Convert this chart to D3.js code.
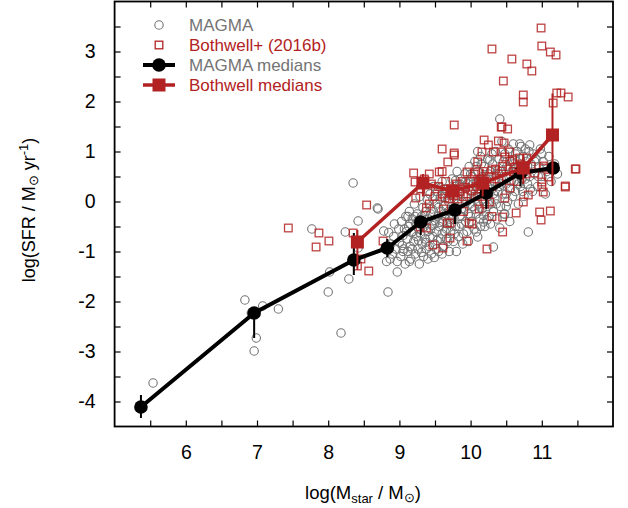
<!DOCTYPE html>
<html>
<head>
<meta charset="utf-8">
<script src="https://cdn.jsdelivr.net/npm/d3@7"></script>
<style>
  body { margin: 0; background: #fff; }
  svg text { font-family: "Liberation Sans", Arial, Helvetica, sans-serif; }
</style>
</head>
<body>
<div id="chart"></div>
<script>
// MAGMA individual galaxies [logM, logSFR]
var magmaPoints = [
  [5.54,-3.63],[6.83,-1.97],[7.08,-2.09],[7.30,-2.15],[6.99,-2.73],[6.96,-2.99],[6.92,-2.23],
  [8.35,0.37],[7.77,-0.55],[8.24,-0.61],[8.42,-0.39],[8.02,-1.41],[8.29,-1.55],[8.0,-1.81],
  [8.18,-2.63],[8.42,-0.93],[8.70,-0.15],[8.78,-0.59],[8.84,-1.81],[8.97,-1.41],[10.41,1.65],
  [10.69,1.15],[10.83,1.13],[10.77,1.05],[10.1,1.0],[10.27,0.83],[10.48,-0.25],[10.41,-0.53],
  [10.81,-0.61],[10.32,-0.91],[10.1,-0.71],[10.08,-0.61],[10.23,-0.37],[10.18,-0.41],[8.69,-0.13],
  [8.85,-0.62],[8.88,-0.85],[8.9,-1.05],[8.92,-0.7],[8.95,-0.95],[8.97,-1.2],[8.99,-0.55],[9.0,-0.82],
  [9.02,-1.1],[9.03,-0.4],[9.05,-0.68],[9.06,-0.95],[9.08,-1.25],[9.09,-0.3],[8.87,-1.15],[8.93,-0.45],
  [9.04,-0.88],[8.8,-0.95],[8.82,-1.2],[9.07,-0.55],
  [9.11,-0.75],[9.12,-1.0],[9.13,-0.5],[9.14,-0.2],[9.15,-0.9],[9.16,-1.15],[9.17,-0.62],[9.18,-0.35],
  [9.2,-0.8],[9.21,-0.05],[9.22,-1.05],[9.23,-0.45],[9.24,-0.7],[9.25,-0.25],[9.26,-0.95],[9.27,-0.55],
  [9.28,-1.25],[9.29,0.1],[9.3,-0.65],[9.31,-0.3],[9.32,-0.85],[9.33,-0.12],[9.34,-1.1],[9.35,-0.5],
  [9.36,-0.75],[9.37,-0.2],[9.38,-0.95],[9.39,0.05],[9.4,-0.6],[9.15,-0.45],[9.19,-0.6],[9.26,-0.38],
  [9.33,-0.42],[9.12,-0.3],[9.37,-0.82],
  [9.41,-0.35],[9.42,-0.9],[9.43,0.15],[9.44,-0.55],[9.45,-1.05],[9.46,-0.15],[9.47,-0.7],[9.48,0.3],
  [9.49,-0.45],[9.5,-0.85],[9.51,-0.05],[9.52,-0.6],[9.53,0.2],[9.54,-0.3],[9.55,-1.0],[9.56,-0.5],
  [9.57,0.05],[9.58,-0.75],[9.59,-0.2],[9.6,0.4],[9.61,-0.4],[9.62,-0.9],[9.63,0.1],[9.64,-0.6],
  [9.65,-0.25],[9.66,0.25],[9.67,-0.45],[9.68,-0.8],[9.69,0.0],[9.7,-0.35],[9.44,-0.25],[9.5,-0.38],
  [9.55,-0.12],[9.6,-0.65],[9.64,-0.08],[9.52,-0.95],[9.58,0.28],[9.47,0.05],[9.66,-0.55],[9.69,-0.2],
  [9.71,0.15],[9.72,-0.6],[9.73,-0.1],[9.74,0.45],[9.75,-0.35],[9.76,-0.8],[9.77,0.05],[9.78,0.3],
  [9.79,-0.5],[9.8,-0.2],[9.81,0.6],[9.82,-0.05],[9.83,-0.7],[9.84,0.2],[9.85,-0.3],[9.86,0.45],
  [9.87,-0.45],[9.88,0.0],[9.89,-0.85],[9.9,0.3],[9.91,-0.15],[9.92,0.55],[9.93,-0.4],[9.94,0.1],
  [9.95,-0.6],[9.96,0.35],[9.97,-0.25],[9.98,0.7],[9.99,-0.05],[10.0,0.2],[9.74,-0.25],[9.82,0.12],
  [9.88,-0.3],[9.95,0.0],[9.79,0.42],
  [10.01,-0.4],[10.02,0.5],[10.03,-0.1],[10.04,0.25],[10.05,-0.55],[10.06,0.8],[10.07,0.05],[10.08,-0.25],
  [10.09,0.4],[10.1,0.6],[10.11,-0.05],[10.12,0.15],[10.13,-0.35],[10.14,0.9],[10.15,0.3],[10.16,-0.15],
  [10.17,0.5],[10.18,0.0],[10.19,0.7],[10.2,-0.5],[10.21,0.2],[10.22,0.45],[10.23,-0.1],[10.24,0.85],
  [10.25,0.1],[10.26,-0.3],[10.27,0.35],[10.28,0.6],[10.29,-0.05],[10.3,0.25],[10.05,0.1],[10.12,0.42],
  [10.18,-0.28],[10.25,0.55],[10.08,0.7],
  [10.31,0.75],[10.32,-0.2],[10.33,0.4],[10.34,0.05],[10.35,1.0],[10.36,0.55],[10.37,-0.35],[10.38,0.2],
  [10.4,0.85],[10.41,0.3],[10.42,-0.1],[10.43,0.6],[10.44,1.2],[10.45,0.15],[10.46,0.45],[10.47,-0.25],
  [10.48,0.95],[10.5,0.35],[10.51,0.7],[10.52,0.0],[10.53,1.05],[10.54,0.5],[10.55,-0.4],[10.56,0.25],
  [10.57,0.8],[10.58,0.6],[10.59,0.1],[10.6,1.15],[10.38,0.62],[10.5,-0.1],
  [10.61,0.4],[10.62,0.85],[10.63,0.2],[10.65,1.0],[10.66,0.55],[10.67,-0.05],[10.68,0.7],[10.7,0.3],
  [10.71,1.1],[10.72,0.45],[10.74,0.9],[10.75,0.1],[10.76,0.6],[10.78,0.8],[10.8,0.35],[10.82,1.0],
  [10.83,0.5],[10.85,0.75],[10.87,0.2],[10.88,0.95],[10.9,0.55],[10.64,0.65],
  [10.92,0.85],[10.94,0.3],[10.96,0.7],[10.98,1.05],[11.0,0.5],[11.02,0.8],[11.05,0.15],[11.07,0.6],
  [11.1,0.9],[11.13,0.4],[11.18,0.75],[11.22,0.55],
  // extra fill of the dense core
  [9.05,-1.0],[9.1,-0.6],[9.14,-1.2],[9.18,-0.95],[9.22,-0.3],[9.27,-0.78],[9.31,-1.02],[9.35,-0.28],
  [9.4,-1.15],[9.43,-0.72],[9.46,-0.48],[9.49,-1.12],[9.53,-0.78],[9.57,-0.42],[9.6,-1.05],[9.63,-0.3],
  [9.66,-0.75],[9.7,-1.0],[9.73,-0.45],[9.77,-0.65],[9.8,-1.0],[9.84,-0.5],[9.87,-0.15],[9.9,-0.65],
  [9.93,0.4],[9.97,-0.8],[10.0,-0.3],[10.03,0.35],[10.06,-0.15],[10.1,0.25],[10.14,-0.5],[10.17,0.05],
  [10.21,-0.2],[10.24,0.3],[10.28,-0.45],[10.32,0.15],[10.36,-0.05],[10.4,0.55],[10.43,0.35],[10.46,0.8],
  [10.5,0.15],[10.53,0.65],[10.57,0.4],[10.6,0.75],[10.63,0.95],[10.67,0.35],[10.7,0.85],[10.73,0.2],
  [10.77,0.45],[10.8,0.7],[10.84,0.25],[10.9,0.8],[10.95,0.5],[11.0,0.95],[9.58,0.1],[9.75,0.2],
  [9.85,0.35],[10.0,0.55],[10.15,0.75],[10.3,0.95]
];

// Bothwell+ (2016b) galaxies [logM, logSFR]
var bothwellPoints = [
  [10.99,3.47],[11.0,3.11],[11.12,2.99],[11.2,2.93],[10.30,3.05],[10.58,2.85],[10.79,2.75],[10.86,2.61],
  [10.46,2.41],[10.74,2.13],[10.74,1.99],[11.21,2.17],[11.27,2.17],[11.37,2.09],[11.16,1.97],[10.43,1.49],
  [10.52,1.45],[11.48,0.65],[11.33,0.29],
  [9.77,1.53],[9.60,1.05],[9.77,0.93],[9.68,0.79],[9.20,0.57],[9.42,0.55],[9.56,0.59],[9.60,0.6],[9.22,0.39],
  [7.44,-0.53],[7.87,-0.63],[8.01,-0.79],[7.83,-0.91],[8.35,-0.63],[8.54,-0.07],[8.46,-1.15],[8.41,-1.29],
  [8.57,-1.39],[8.77,-0.79],
  [9.29,-0.51],[9.38,-0.53],[9.38,-0.13],[9.23,0.07],[9.47,-0.87],[9.61,-0.93],[9.67,-0.43],[9.71,-0.43],
  [9.71,-0.73],[9.64,0.07],
  [10.45,-0.31],[10.64,-0.23],[10.97,-0.21],[11.12,-0.19],[10.99,-0.37],[10.45,-0.61],[9.95,-0.79],[10.23,-0.95],
  [9.98,-0.43],[10.02,-0.45],[10.74,-0.01],[10.81,0.13],[11.02,0.19],[11.0,0.29],[10.48,0.07],[10.55,0.27],
  [10.27,-0.01],[10.2,-0.05],
  [10.44,1.49],[10.19,1.23],[10.39,1.21],[10.47,1.17],[10.25,1.13],[10.16,0.99],[10.32,0.99],[10.44,0.99],
  [10.55,0.99],[10.48,0.89],[10.69,0.87],[10.59,0.83],[10.79,0.87],[9.77,0.97],[11.47,0.65],[11.03,0.71],
  [10.1,0.79],[9.95,0.59],[10.07,0.59],[10.3,0.63],[10.44,0.61],[10.62,0.69],[10.9,0.57],[11.02,0.67],
  [11.33,0.31],[11.09,0.49],[11.0,0.39],
  [9.3,0.25],[9.35,0.45],[9.4,0.2],[9.45,0.35],[9.5,0.1],[9.55,0.3],[9.6,0.15],[9.65,0.4],[9.7,0.05],
  [9.72,0.25],[9.76,0.12],[9.8,0.35],[9.82,0.05],[9.85,0.2],[9.88,0.4],[9.9,0.1],[9.93,0.28],[9.96,0.15],
  [10.0,0.4],[10.02,0.22],[10.05,0.55],[10.08,0.3],[10.1,0.1],[10.13,0.45],[10.15,0.25],[10.18,0.6],
  [10.2,0.35],[10.23,0.15],[10.26,0.5],[10.3,0.3],[10.35,0.65],[10.4,0.45],[10.45,0.7],[10.5,0.5],
  [10.55,0.8],[10.6,0.6],[10.65,0.4],[10.7,0.75],[10.78,0.55],[10.85,0.7],[9.62,-0.15],[9.9,-0.2],
  [10.12,-0.15],[10.3,-0.3],[9.42,-0.05]
];

// binned medians: mass, median SFR, lower and upper error
var magmaMedMass = [5.37, 6.96, 8.36, 8.83, 9.30, 9.78, 10.22, 10.70, 11.16];
var magmaMedSfr  = [-4.11, -2.23, -1.17, -0.93, -0.41, -0.17, 0.17, 0.57, 0.67];
var magmaMedLo   = [-4.33, -2.73, -1.47, -1.11, -0.67, -0.45, -0.15, 0.30, 0.67];
var magmaMedHi   = [-3.87, -2.23, -0.63, -0.75, -0.41, -0.17, 0.17, 0.57, 0.67];

var bothMedMass = [8.41, 9.33, 9.75, 10.17, 10.74, 11.15];
var bothMedSfr  = [-0.81, 0.37, 0.21, 0.37, 0.67, 1.33];
var bothMedLo   = [-1.37, 0.10, 0.00, 0.10, 0.35, 0.31];
var bothMedHi   = [-0.57, 0.55, 0.40, 0.65, 0.95, 2.16];

var xTicks = d3.range(5.5, 12, 0.5);
var yTicks = d3.range(-4, 4, 0.5);

var width = 628, height = 508;
var grey = "#747474", red = "#b22222";

var svg = d3.select("#chart").append("svg")
  .attr("width", width)
  .attr("height", height);

var x = d3.scaleLinear().domain([5, 12]).range([114.6, 613]);
var y = d3.scaleLinear().domain([-4.5, 4]).range([426.5, 1.5]);

var intFmt = function(d){ return (Number.isInteger(d) && d >= 6 && d <= 11) ? d : ""; };
var intFmtY = function(d){ return (Number.isInteger(d)) ? d : ""; };

// axes, ticks pointing inward on all four sides
svg.append("g").attr("class", "axis")
  .attr("transform", "translate(0," + y.range()[0] + ")")
  .call(d3.axisBottom(x).tickValues(xTicks).tickSize(-6).tickPadding(19).tickFormat(intFmt));
svg.append("g").attr("class", "axis")
  .attr("transform", "translate(0," + y.range()[1] + ")")
  .call(d3.axisTop(x).tickValues(xTicks).tickSize(-6).tickFormat(""));
svg.append("g").attr("class", "axis")
  .attr("transform", "translate(" + x.range()[0] + ",0)")
  .call(d3.axisLeft(y).tickValues(yTicks).tickSize(-6).tickPadding(19).tickFormat(intFmtY));
svg.append("g").attr("class", "axis")
  .attr("transform", "translate(" + x.range()[1] + ",0)")
  .call(d3.axisRight(y).tickValues(yTicks).tickSize(-6).tickFormat(""));

svg.selectAll(".axis .domain").remove();
svg.selectAll(".axis line").attr("stroke", "#000").attr("stroke-width", 1.2);
svg.selectAll(".axis text").attr("font-size", 19.5).attr("fill", "#000");

svg.append("rect")
  .attr("x", x.range()[0]).attr("y", y.range()[1])
  .attr("width", x.range()[1] - x.range()[0])
  .attr("height", y.range()[0] - y.range()[1])
  .attr("fill", "none").attr("stroke", "#000").attr("stroke-width", 1.8);

// scatter
svg.append("g").selectAll("circle")
  .data(magmaPoints)
  .enter().append("circle")
  .attr("cx", function(d){ return x(d[0]); })
  .attr("cy", function(d){ return y(d[1]); })
  .attr("r", 4.2)
  .attr("fill", "none")
  .attr("stroke", grey)
  .attr("stroke-width", 1.1);

var sq = 7.6;
svg.append("g").selectAll("rect")
  .data(bothwellPoints)
  .enter().append("rect")
  .attr("x", function(d){ return x(d[0]) - sq/2; })
  .attr("y", function(d){ return y(d[1]) - sq/2; })
  .attr("width", sq).attr("height", sq)
  .attr("fill", "none")
  .attr("stroke", red)
  .attr("stroke-opacity", 0.85)
  .attr("stroke-width", 1.3);

// medians
function medians(mass, sfr, lo, hi, colour, lw, isSquare){
  var g = svg.append("g");
  var pts = mass.map(function(m, i){ return {m: m, s: sfr[i], lo: lo[i], hi: hi[i]}; });
  g.selectAll("line.err")
    .data(pts)
    .enter().append("line")
    .attr("class", "err")
    .attr("x1", function(d){ return x(d.m); })
    .attr("x2", function(d){ return x(d.m); })
    .attr("y1", function(d){ return y(d.lo); })
    .attr("y2", function(d){ return y(d.hi); })
    .attr("stroke", colour).attr("stroke-width", 2);
  g.append("path")
    .datum(pts)
    .attr("d", d3.line().x(function(d){ return x(d.m); }).y(function(d){ return y(d.s); }))
    .attr("fill", "none")
    .attr("stroke", colour)
    .attr("stroke-width", lw)
    .attr("stroke-linejoin", "round");
  if (isSquare) {
    g.selectAll("rect")
      .data(pts)
      .enter().append("rect")
      .attr("x", function(d){ return x(d.m) - 6.5; })
      .attr("y", function(d){ return y(d.s) - 6.5; })
      .attr("width", 13).attr("height", 13)
      .attr("fill", colour);
  } else {
    g.selectAll("circle")
      .data(pts)
      .enter().append("circle")
      .attr("cx", function(d){ return x(d.m); })
      .attr("cy", function(d){ return y(d.s); })
      .attr("r", 6.8)
      .attr("fill", colour);
  }
}
medians(magmaMedMass, magmaMedSfr, magmaMedLo, magmaMedHi, "#000", 4, false);
medians(bothMedMass, bothMedSfr, bothMedLo, bothMedHi, red, 3.5, true);

// legend
var leg = svg.append("g").attr("font-size", 17);
leg.append("circle").attr("cx", 159).attr("cy", 25).attr("r", 4.2)
  .attr("fill", "none").attr("stroke", grey).attr("stroke-width", 1.1);
leg.append("rect").attr("x", 159 - sq/2).attr("y", 45 - sq/2).attr("width", sq).attr("height", sq)
  .attr("fill", "none").attr("stroke", red).attr("stroke-width", 1.3);
leg.append("line").attr("x1", 143).attr("x2", 175).attr("y1", 65).attr("y2", 65)
  .attr("stroke", "#000").attr("stroke-width", 4);
leg.append("circle").attr("cx", 159).attr("cy", 65).attr("r", 6.8).attr("fill", "#000");
leg.append("line").attr("x1", 143).attr("x2", 175).attr("y1", 85).attr("y2", 85)
  .attr("stroke", red).attr("stroke-width", 3.5);
leg.append("rect").attr("x", 152.5).attr("y", 78.5).attr("width", 13).attr("height", 13).attr("fill", red);

var legText = [["MAGMA", grey, 25], ["Bothwell+ (2016b)", red, 45], ["MAGMA medians", grey, 65], ["Bothwell medians", red, 85]];
leg.selectAll("text.lt")
  .data(legText)
  .enter().append("text")
  .attr("class", "lt")
  .attr("x", 189)
  .attr("y", function(d){ return d[2] + 6; })
  .attr("fill", function(d){ return d[1]; })
  .text(function(d){ return d[0]; });

// axis titles
var xt = svg.append("text")
  .attr("x", 363).attr("y", 499)
  .attr("text-anchor", "middle")
  .attr("font-size", 18.5);
xt.append("tspan").text("log(M");
xt.append("tspan").attr("font-size", 13).attr("dy", 4).text("star");
xt.append("tspan").attr("dy", -4).text(" / M");
xt.append("tspan").attr("font-size", 13).attr("dy", 3).text("⊙");
xt.append("tspan").attr("dy", -3).text(")");

var yt = svg.append("text")
  .attr("transform", "translate(35,210) rotate(-90)")
  .attr("text-anchor", "middle")
  .attr("font-size", 18);
yt.append("tspan").text("log(SFR / M");
yt.append("tspan").attr("font-size", 13).attr("dy", 3).text("⊙");
yt.append("tspan").attr("dy", -3).text(" yr");
yt.append("tspan").attr("font-size", 13).attr("dy", -7).text("-1");
yt.append("tspan").attr("dy", 7).text(")");
</script>
</body>
</html>
